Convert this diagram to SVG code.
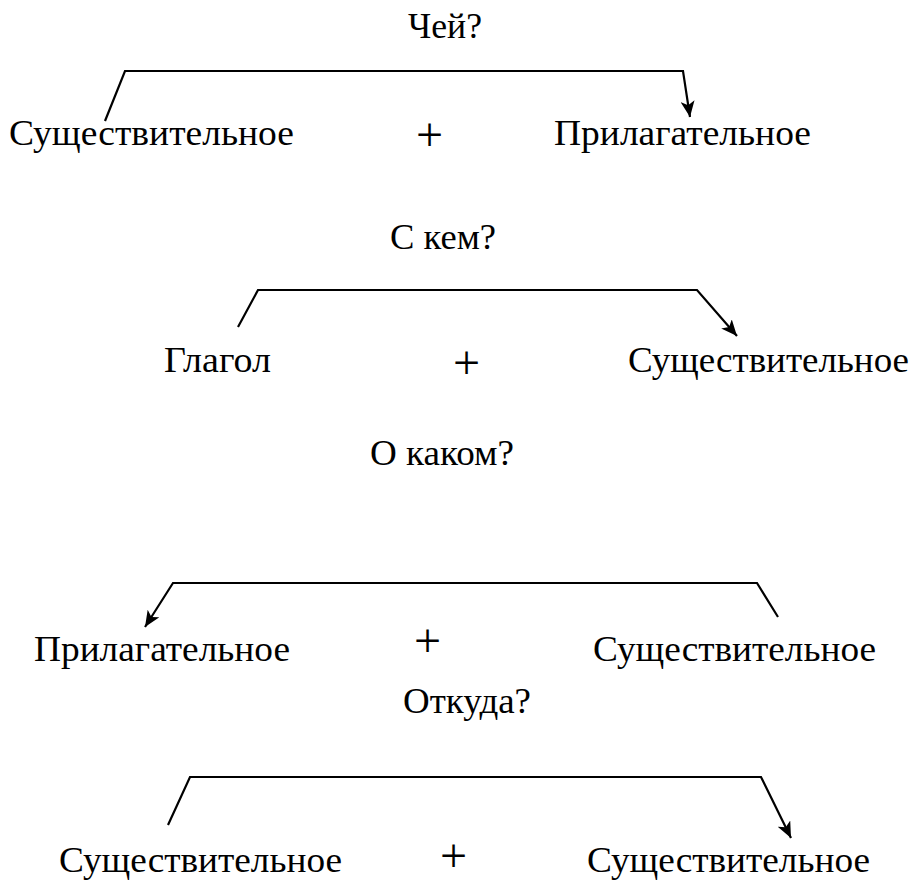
<svg xmlns="http://www.w3.org/2000/svg" width="915" height="881" viewBox="0 0 915 881">
<style>
text{font-family:"Liberation Serif","DejaVu Serif",serif;font-size:36px;fill:#000}
.pl{font-size:48px}
.c{stroke:#000;stroke-width:2.2;fill:none;stroke-linejoin:miter}
</style>
<defs>
<marker id="ah" markerUnits="userSpaceOnUse" markerWidth="18" markerHeight="14" refX="16" refY="7" orient="auto">
<path d="M0,0 L16,7 L0,14 L4,7 z" fill="#000"/>
</marker>
</defs>
<rect width="915" height="881" fill="#fff"/>
<g id="connectors">
<path class="c" d="M105,121 L125,71 L683,71 L690,117" marker-end="url(#ah)"/>
<path class="c" d="M238,327 L258,290 L697,290 L737,336" marker-end="url(#ah)"/>
<path class="c" d="M778,617 L757,583 L173,583 L145,627" marker-end="url(#ah)"/>
<path class="c" d="M168,825 L190,777 L761,777 L791,838" marker-end="url(#ah)"/>
</g>
<g id="q1"><text x="408" y="38" textLength="74" lengthAdjust="spacingAndGlyphs">Чей?</text></g>
<g id="n1a"><text x="9" y="145" textLength="285" lengthAdjust="spacingAndGlyphs">Существительное</text></g>
<g id="p1"><text class="pl" x="416" y="151">+</text></g>
<g id="n1b"><text x="554" y="145" textLength="257" lengthAdjust="spacingAndGlyphs">Прилагательное</text></g>
<g id="q2"><text x="390" y="249" textLength="106" lengthAdjust="spacingAndGlyphs">С кем?</text></g>
<g id="n2a"><text x="164" y="372" textLength="107" lengthAdjust="spacingAndGlyphs">Глагол</text></g>
<g id="p2"><text class="pl" x="453" y="379">+</text></g>
<g id="n2b"><text x="628" y="372" textLength="281" lengthAdjust="spacingAndGlyphs">Существительное</text></g>
<g id="q3"><text x="370" y="465" textLength="144" lengthAdjust="spacingAndGlyphs">О каком?</text></g>
<g id="n3a"><text x="34" y="661" textLength="256" lengthAdjust="spacingAndGlyphs">Прилагательное</text></g>
<g id="p3"><text class="pl" x="414" y="657">+</text></g>
<g id="n3b"><text x="593" y="661" textLength="283" lengthAdjust="spacingAndGlyphs">Существительное</text></g>
<g id="q4"><text x="403" y="713" textLength="128" lengthAdjust="spacingAndGlyphs">Откуда?</text></g>
<g id="n4a"><text x="59" y="872" textLength="283" lengthAdjust="spacingAndGlyphs">Существительное</text></g>
<g id="p4"><text class="pl" x="440" y="872">+</text></g>
<g id="n4b"><text x="587" y="872" textLength="283" lengthAdjust="spacingAndGlyphs">Существительное</text></g>
</svg>
